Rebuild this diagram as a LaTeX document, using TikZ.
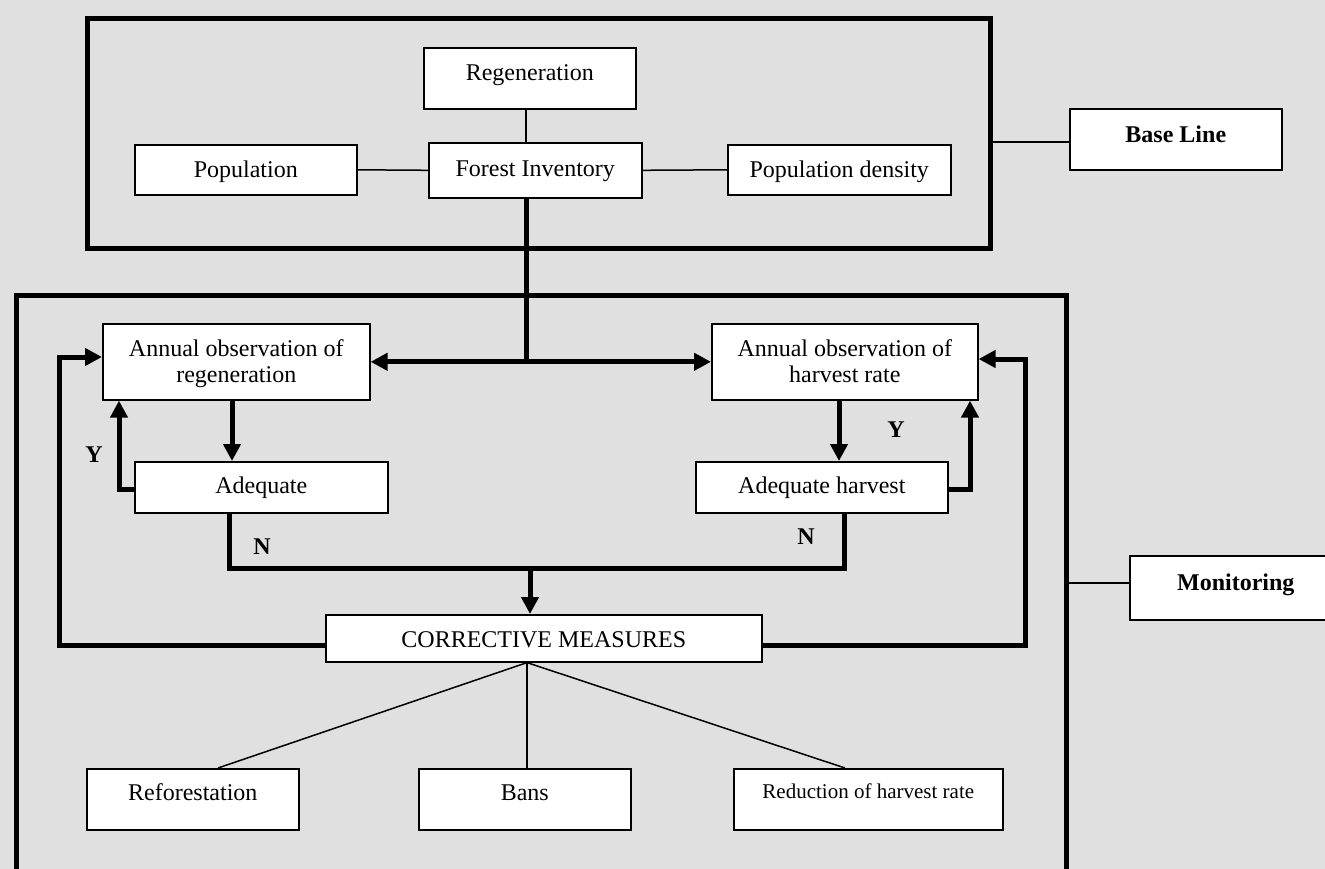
\documentclass[tikz,border=0pt]{standalone}
\usepackage{fontspec}
\setmainfont{Liberation Serif}
\usetikzlibrary{arrows.meta}
\definecolor{bg}{RGB}{224,224,224}
\begin{document}
\begin{tikzpicture}[x=1pt,y=-1pt,
  box/.style={draw=black, line width=1.6pt, fill=white, rectangle, inner sep=0pt,
    anchor=north west, align=center, font=\fontsize{24}{26}\selectfont},
  framebox/.style={draw=black, line width=5pt, rectangle, inner sep=0pt, anchor=north west},
  thinline/.style={line width=1.5pt},
  thickline/.style={line width=5pt},
  arr/.style={thickline, -{Triangle[length=17pt,width=17pt]}},
  dbl/.style={thickline, {Triangle[length=17pt,width=17pt]}-{Triangle[length=17pt,width=17pt]}},
  lbl/.style={font=\fontsize{24}{26}\selectfont\bfseries, inner sep=0pt}
]
\useasboundingbox (0,0) rectangle (1325,869);
\clip (0,0) rectangle (1325,869);
\fill[bg] (0,0) rectangle (1325,869);

% frames
\node[framebox, minimum width=903pt, minimum height=229.5pt] (base) at (85,16.5) {};
\node[framebox, minimum width=1050pt, minimum height=680pt] (mon) at (14,292.5) {};

% coordinates for connectors
\coordinate (j) at (526,361);
\coordinate (blY) at (0,142);
\coordinate (monY) at (0,583);
\coordinate (a1) at (232,0);
\coordinate (a2) at (839,0);
\coordinate (yl) at (119,489);
\coordinate (yr) at (970,489);
\coordinate (nl) at (229,568);
\coordinate (nr) at (844,568);
\coordinate (nc) at (530,568);
\coordinate (fl1) at (59,645);
\coordinate (fl2) at (59,357);
\coordinate (fr1) at (1025,645);
\coordinate (fr2) at (1025,359);
\coordinate (cmb) at (527,0);
\coordinate (rfx) at (218,0);
\coordinate (rdx) at (845,0);

% boxes
\node[box, minimum width=212pt, text height=33pt, text depth=28pt] (Reg) at (423,47) {Regeneration};
\node[box, minimum width=222pt, text height=33pt, text depth=17pt] (Pop) at (134,144) {Population};
\node[box, minimum width=213pt, text height=34pt, text depth=21pt] (FI) at (428,142) {Forest Inventory};
\node[box, minimum width=223pt, text height=33pt, text depth=17pt] (PD) at (727,144) {Population density};
\node[box, minimum width=212pt, text height=34pt, text depth=27pt, font=\fontsize{24}{26}\selectfont\bfseries] (BL) at (1069,108) {Base Line};
\node[box, minimum width=267pt, text height=59pt, text depth=17pt] (AOR) at (102,323) {Annual observation of\\regeneration};
\node[box, minimum width=266pt, text height=59pt, text depth=17pt] (AOH) at (711,323) {Annual observation of\\harvest rate};
\node[box, minimum width=253pt, text height=32pt, text depth=19pt] (Ad) at (134,461) {Adequate};
\node[box, minimum width=252pt, text height=32pt, text depth=19pt] (AH) at (695,461) {Adequate harvest};
\node[box, minimum width=436pt, text height=33pt, text depth=14pt] (CM) at (325,614) {CORRECTIVE MEASURES};
\node[box, minimum width=212pt, text height=32pt, text depth=29pt] (Ref) at (86,768) {Reforestation};
\node[box, minimum width=212pt, text height=32pt, text depth=29pt] (Bans) at (418,768) {Bans};
\node[box, minimum width=269pt, text height=30pt, text depth=31pt, font=\fontsize{21}{24}\selectfont] (Red) at (733,768) {Reduction of harvest rate};
\node[box, minimum width=212pt, text height=35pt, text depth=29pt, font=\fontsize{24}{26}\selectfont\bfseries] (Mon) at (1129,555) {Monitoring};

% thin connectors
\draw[thinline] (Reg.south -| j) -- (FI.north -| j);
\draw[thinline] (Pop.east) -- (FI.west);
\draw[thinline] (FI.east) -- (PD.west);
\draw[thinline] (base.east |- blY) -- (BL.west |- blY);
\draw[thinline] (mon.east |- monY) -- (Mon.west |- monY);
\draw[thinline] (CM.south -| cmb) -- (Ref.north -| rfx);
\draw[thinline] (CM.south -| cmb) -- (Bans.north -| cmb);
\draw[thinline] (CM.south -| cmb) -- (Red.north -| rdx);

% thick connectors
\draw[thickline] (FI.south -| j) -- (j);
\draw[dbl] (AOR.east) -- (AOH.west);
\draw[arr] (AOR.south -| a1) -- (Ad.north -| a1);
\draw[arr] (Ad.west |- yl) -- (yl) -- (AOR.south -| yl);
\draw[thickline] (Ad.south -| nl) -- (nl) -- (nr) -- (AH.south -| nr);
\draw[arr] (nc) -- (CM.north -| nc);
\draw[arr] (AOH.south -| a2) -- (AH.north -| a2);
\draw[arr] (AH.east |- yr) -- (yr) -- (AOH.south -| yr);
\draw[arr] (CM.west |- fl1) -- (fl1) -- (fl2) -- (AOR.west |- fl2);
\draw[arr] (CM.east |- fr1) -- (fr1) -- (fr2) -- (AOH.east |- fr2);

% labels
\node[lbl] (Y1) at (94,455) {Y};
\node[lbl] (N1) at (262,547) {N};
\node[lbl] (Y2) at (896,430) {Y};
\node[lbl] (N2) at (806,537) {N};
\end{tikzpicture}
\end{document}
